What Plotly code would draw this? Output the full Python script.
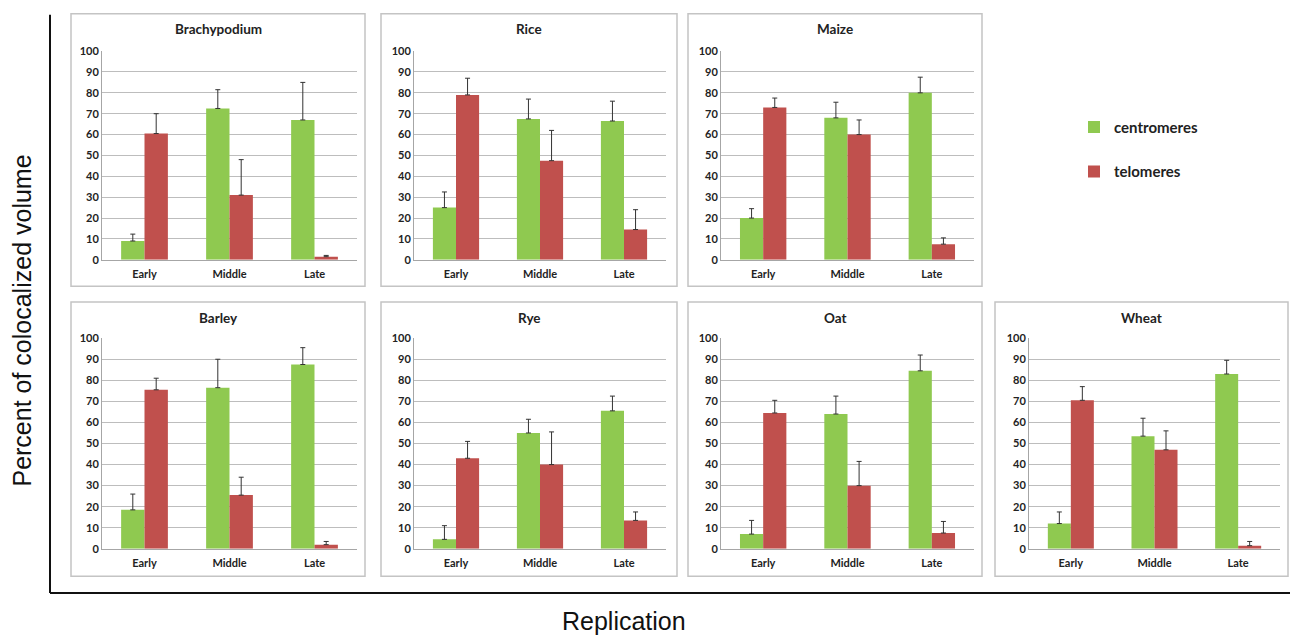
import plotly.graph_objects as go

W, H = 1290, 644

phases = ["Early", "Middle", "Late"]
species = ["Brachypodium", "Rice", "Maize", "Barley", "Rye", "Oat", "Wheat"]

cen_mean = {
    "Brachypodium": [9, 72.5, 67],
    "Rice": [25, 67.5, 66.5],
    "Maize": [20, 68, 80],
    "Barley": [18.5, 76.5, 87.5],
    "Rye": [4.5, 55, 65.5],
    "Oat": [7, 64, 84.5],
    "Wheat": [12, 53.5, 83],
}
cen_err = {
    "Brachypodium": [3.3, 9, 18],
    "Rice": [7.5, 9.5, 9.5],
    "Maize": [4.5, 7.5, 7.5],
    "Barley": [7.5, 13.5, 8],
    "Rye": [6.5, 6.5, 7],
    "Oat": [6.5, 8.5, 7.5],
    "Wheat": [5.5, 8.5, 6.5],
}
tel_mean = {
    "Brachypodium": [60.5, 31, 1.5],
    "Rice": [79, 47.5, 14.5],
    "Maize": [73, 60, 7.5],
    "Barley": [75.5, 25.5, 2],
    "Rye": [43, 40, 13.5],
    "Oat": [64.5, 30, 7.5],
    "Wheat": [70.5, 47, 1.5],
}
tel_err = {
    "Brachypodium": [9.5, 17, 0.6],
    "Rice": [8, 14.5, 9.5],
    "Maize": [4.5, 7, 3],
    "Barley": [5.5, 8.5, 1.5],
    "Rye": [8, 15.5, 4],
    "Oat": [6, 11.5, 5.5],
    "Wheat": [6.5, 9, 2],
}
y_ticks = [0, 10, 20, 30, 40, 50, 60, 70, 80, 90, 100]

GREEN = "#8fc950"
RED = "#c0504d"
FONT = "Lato"

# layout positions (pixels)
panel_pos = {
    "Brachypodium": (0, 0), "Rice": (0, 1), "Maize": (0, 2),
    "Barley": (1, 0), "Rye": (1, 1), "Oat": (1, 2), "Wheat": (1, 3),
}
plot_x = [(102, 357), (414, 666), (721, 974), (1029, 1280)]
plot_y = [(45, 258), (338, 553)]
box_x = [(71, 365), (381, 677), (688, 982), (995, 1288)]
box_y = [(7, 285), (301, 581)]
title_y = [22, 317]


def px(x):
    return x / W


def py(y):
    return 1 - y / H


fig = go.Figure()
layout = dict(
    width=W, height=H,
    margin=dict(l=0, r=0, t=0, b=0),
    paper_bgcolor="white", plot_bgcolor="white",
    barmode="group", bargap=0.45, bargroupgap=0,
    font=dict(family=FONT, color="#222"),
    showlegend=True,
    legend=dict(x=px(1074), y=py(106), xanchor="left", yanchor="top",
                font=dict(family=FONT, size=15, color="#222", weight="bold"),
                tracegroupgap=22, bgcolor="rgba(0,0,0,0)", itemwidth=30),
)
shapes = []
annotations = []

for i, sp in enumerate(species):
    r, c = panel_pos[sp]
    idx = "" if i == 0 else str(i + 1)
    xa, ya = "x" + idx, "y" + idx
    fig.add_trace(go.Bar(
        x=phases, y=cen_mean[sp], name="centromeres", marker_color=GREEN,
        marker_line_width=0, offsetgroup="c", legendgroup="c",
        showlegend=(i == 0), xaxis=xa, yaxis=ya,
        error_y=dict(type="data", array=cen_err[sp], arrayminus=[0, 0, 0],
                     symmetric=False, color="#333", thickness=1, width=2.5),
    ))
    fig.add_trace(go.Bar(
        x=phases, y=tel_mean[sp], name="telomeres", marker_color=RED,
        marker_line_width=0, offsetgroup="t", legendgroup="t",
        showlegend=(i == 0), xaxis=xa, yaxis=ya,
        error_y=dict(type="data", array=tel_err[sp], arrayminus=[0, 0, 0],
                     symmetric=False, color="#333", thickness=1, width=2.5),
    ))
    x0, x1 = plot_x[c]
    y0, y1 = plot_y[r]
    layout["xaxis" + idx] = dict(
        domain=[px(x0), px(x1)], anchor=ya, showgrid=False,
        showline=True, linecolor="#a6a6a6", linewidth=1, ticks="",
        ticklabelstandoff=4,
        tickfont=dict(family=FONT, size=11, color="#222", weight="bold"),
        fixedrange=True,
    )
    layout["yaxis" + idx] = dict(
        domain=[py(y1), py(y0)], anchor=xa, range=[0, 100],
        tickvals=y_ticks, showgrid=True, gridcolor="#bdbdbd", gridwidth=1,
        showline=True, linecolor="#a6a6a6", linewidth=1, zeroline=False,
        ticks="", ticklen=0,
        tickfont=dict(family=FONT, size=11, color="#222", weight="bold"),
        fixedrange=True,
    )
    bx0, bx1 = box_x[c]
    by0, by1 = box_y[r]
    shapes.append(dict(type="rect", xref="paper", yref="paper",
                       x0=px(bx0), x1=px(bx1), y0=py(by1), y1=py(by0),
                       line=dict(color="#c4c4c4", width=1.5), layer="below"))
    annotations.append(dict(text=sp, xref="paper", yref="paper",
                            x=px((bx0 + bx1) / 2), y=py(title_y[r]),
                            xanchor="center", yanchor="middle", showarrow=False,
                            font=dict(family=FONT, size=13.5, color="#222",
                                      weight="bold")))

# overall L-shaped axes
shapes.append(dict(type="line", xref="paper", yref="paper",
                   x0=px(50), x1=px(1290), y0=py(598), y1=py(598),
                   line=dict(color="#111", width=2)))
shapes.append(dict(type="line", xref="paper", yref="paper",
                   x0=px(50), x1=px(50), y0=py(8), y1=py(598),
                   line=dict(color="#111", width=2)))

annotations.append(dict(text="Percent of colocalized volume", xref="paper",
                        yref="paper", x=px(22), y=py(320), textangle=-90,
                        xanchor="center", yanchor="middle", showarrow=False,
                        font=dict(family="Liberation Sans", size=25,
                                  color="#111")))
annotations.append(dict(text="Replication", xref="paper", yref="paper",
                        x=px(624), y=py(627), xanchor="center",
                        yanchor="middle", showarrow=False,
                        font=dict(family="Liberation Sans", size=25,
                                  color="#111")))

layout["shapes"] = shapes
layout["annotations"] = annotations
fig.update_layout(**layout)
fig.write_html(
    "out.html",
    config={"displayModeBar": False},
    post_script="document.body.style.margin='0';document.body.style.overflow='hidden';",
)
